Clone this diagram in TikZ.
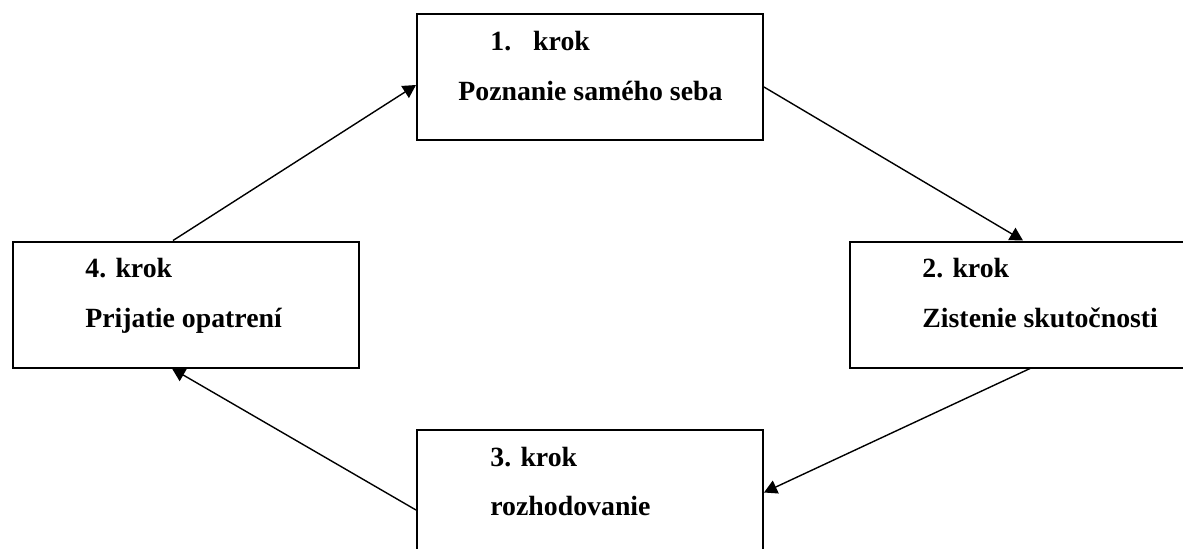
\documentclass[tikz,border=0pt]{standalone}
\usepackage{fontspec}
\setmainfont{Liberation Serif}
\usetikzlibrary{arrows.meta}
\tikzset{
  krokbox/.style={draw, line width=1pt, minimum width=173pt, minimum height=63pt, inner sep=0pt},
  kroktext/.style={anchor=base west, inner sep=0pt, font=\fontsize{13.9}{16}\selectfont\bfseries},
  krokarrow/.style={line width=0.7pt, -{Triangle[length=6.5pt,width=7pt]}}
}
\begin{document}
\begin{tikzpicture}[x=0.5pt, y=-0.5pt]
  \clip (0,0) rectangle (1183,548);

  \node[krokbox] (krok1) at (590,77) {};
  \node[krokbox] (krok2) at (1023,304.5) {};
  \node[krokbox] (krok3) at (590,492.5) {};
  \node[krokbox] (krok4) at (186,304.5) {};

  \node[kroktext] (krok1num) at ([xshift=37pt,yshift=13.5pt]krok1.west) {1.\hspace{11pt}krok};
  \node[kroktext] (krok1name) at ([xshift=21pt,yshift=-11.5pt]krok1.west) {Poznanie samého seba};
  \node[kroktext] (krok2num) at ([xshift=36.5pt,yshift=13.5pt]krok2.west) {2. krok};
  \node[kroktext] (krok2name) at ([xshift=36.5pt,yshift=-11.5pt]krok2.west) {Zistenie skutočnosti};
  \node[kroktext] (krok3num) at ([xshift=37pt,yshift=13pt]krok3.west) {3. krok};
  \node[kroktext] (krok3name) at ([xshift=37pt,yshift=-11.5pt]krok3.west) {rozhodovanie};
  \node[kroktext] (krok4num) at ([xshift=36.5pt,yshift=13.5pt]krok4.west) {4. krok};
  \node[kroktext] (krok4name) at ([xshift=36.5pt,yshift=-11.5pt]krok4.west) {Prijatie opatrení};

  \draw[krokarrow] ([yshift=-5pt]krok1.east) -- (krok2.north);
  \draw[krokarrow] ([xshift=3.5pt]krok2.south) -- (krok3.east);
  \draw[krokarrow] ([yshift=-8.75pt]krok3.west) -- ([xshift=-7pt]krok4.south);
  \draw[krokarrow] ([xshift=-6.5pt]krok4.north) -- ([yshift=-4pt]krok1.west);
\end{tikzpicture}
\end{document}
